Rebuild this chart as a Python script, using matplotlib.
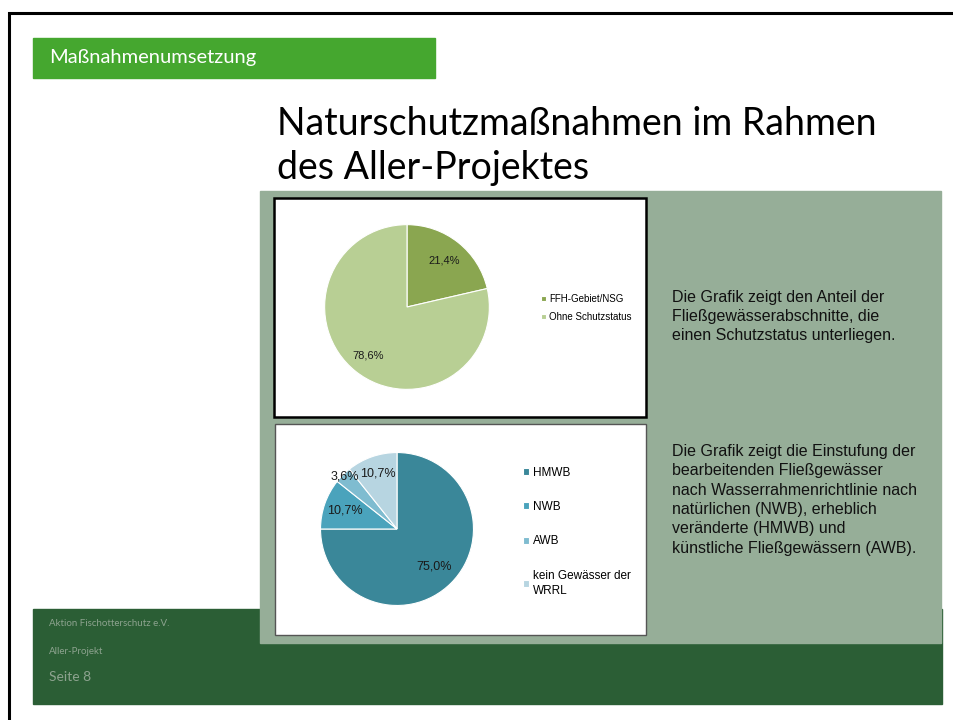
import matplotlib
matplotlib.use("Agg")
import matplotlib.pyplot as plt
from matplotlib.patches import Rectangle
import numpy as np

# chart data
schutz_labels = ["FFH-Gebiet/NSG", "Ohne Schutzstatus"]
schutz_values = [21.4, 78.6]
schutz_colors = ["#8aa650", "#b8cf94"]

wrrl_labels = ["HMWB", "NWB", "AWB", "kein Gewässer der\nWRRL"]
wrrl_values = [75.0, 10.7, 3.6, 10.7]
wrrl_colors = ["#3a8799", "#4aa3bc", "#7fbcd0", "#b7d5e1"]

header = "Maßnahmenumsetzung"
title = "Naturschutzmaßnahmen im Rahmen\ndes Aller-Projektes"
text_1 = ("Die Grafik zeigt den Anteil der\n"
          "Fließgewässerabschnitte, die\n"
          "einen Schutzstatus unterliegen.")
text_2 = ("Die Grafik zeigt die Einstufung der\n"
          "bearbeitenden Fließgewässer\n"
          "nach Wasserrahmenrichtlinie nach\n"
          "natürlichen (NWB), erheblich\n"
          "veränderte (HMWB) und\n"
          "künstliche Fließgewässern (AWB).")
footer = ["Aktion Fischotterschutz e.V.", "Aller-Projekt", "Seite 8"]

W, H = 954, 720
SLIDE_FONT = ["Lato", "DejaVu Sans"]
CHART_FONT = ["Liberation Sans", "DejaVu Sans"]


def pct(v):
    return f"{v:.1f}".replace(".", ",") + "%"


def pie_axes(fig, cx, cy, r):
    return fig.add_axes([(cx - r) / W, 1 - (cy + r) / H, 2 * r / W, 2 * r / H])


def draw_pie(ax, values, colors, dists, fontsize):
    wedges, _ = ax.pie(values, colors=colors, startangle=90, counterclock=False,
                       wedgeprops=dict(edgecolor="white", linewidth=0.8))
    for w, v, d in zip(wedges, values, dists):
        ang = np.deg2rad((w.theta1 + w.theta2) / 2)
        ax.text(d * np.cos(ang), d * np.sin(ang), pct(v), ha="center", va="center",
                fontsize=fontsize, family=CHART_FONT, color="#1a1a1a")
    ax.set_xlim(-1.02, 1.02)
    ax.set_ylim(-1.02, 1.02)
    ax.set_aspect("equal")
    return wedges


fig = plt.figure(figsize=(W / 100, H / 100), dpi=100)
bg = fig.add_axes([0, 0, 1, 1])
bg.set_xlim(0, W)
bg.set_ylim(H, 0)
bg.axis("off")

# slide frame
bg.plot([9, 9, W + 5], [H + 5, 12.5, 12.5], color="black", lw=2.2, solid_joinstyle="miter")

# header bar
bg.add_patch(Rectangle((33, 38), 402, 40, color="#45a72f"))
bg.text(49, 58, header, color="white", fontsize=14.5, family=SLIDE_FONT, va="center")

# title (baseline of the last line)
bg.text(277, 179, title, fontsize=27, family=SLIDE_FONT, va="baseline",
        linespacing=1.29, color="black")

# footer
bg.add_patch(Rectangle((33, 609), 909, 95, color="#2b5e35"))
bg.text(49, 624, footer[0], color="#8da38f", fontsize=7, family=SLIDE_FONT, va="center")
bg.text(49, 651, footer[1], color="#8da38f", fontsize=7, family=SLIDE_FONT, va="center")
bg.text(49, 677, footer[2], color="#8da38f", fontsize=10, family=SLIDE_FONT, va="center")

# sage panel with two chart boxes
bg.add_patch(Rectangle((260, 191), 681, 452, color="#96ae98"))
bg.add_patch(Rectangle((274.5, 198), 372, 219, facecolor="white", edgecolor="black", lw=1.8))
bg.add_patch(Rectangle((275.5, 423.5), 371, 211, facecolor="white", edgecolor="#555555", lw=1))

bg.text(672, 290, text_1, fontsize=11.5, family=CHART_FONT, va="top", linespacing=1.35,
        color="#111111")
bg.text(672, 444, text_2, fontsize=11.5, family=CHART_FONT, va="top", linespacing=1.36,
        color="#111111")

# pie 1
ax1 = pie_axes(fig, 407, 307, 84)
w1 = draw_pie(ax1, schutz_values, schutz_colors, [0.72, 0.76], 8)
ax1.legend(w1, schutz_labels, loc="upper left", bbox_to_anchor=(532 / W, 1 - 285 / H),
           bbox_transform=fig.transFigure, frameon=False,
           handlelength=0.5, handleheight=0.5, handletextpad=0.4, labelspacing=0.85,
           prop=dict(family=CHART_FONT, size=7))

# pie 2
ax2 = pie_axes(fig, 397, 529, 78)
w2 = draw_pie(ax2, wrrl_values, wrrl_colors, [0.69, 0.72, 0.97, 0.77], 9)
leg2 = ax2.legend(w2, wrrl_labels, loc="upper left", bbox_to_anchor=(512 / W, 1 - 456 / H),
                  bbox_transform=fig.transFigure, frameon=False,
                  handlelength=0.55, handleheight=0.55, handletextpad=0.3, labelspacing=1.9,
                  prop=dict(family=CHART_FONT, size=8.5))
for t in leg2.get_texts():
    t.set_linespacing(1.35)

fig.savefig("out.png", dpi=100)
